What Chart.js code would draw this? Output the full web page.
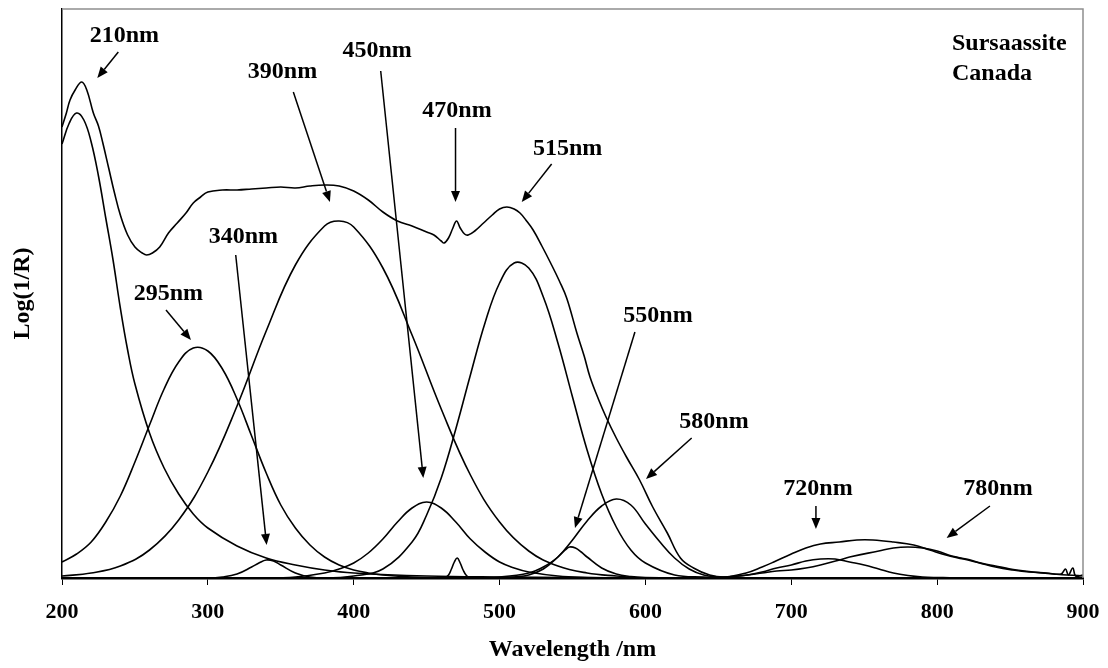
<!DOCTYPE html>
<html><head><meta charset="utf-8">
<script src="https://cdn.jsdelivr.net/npm/chart.js@4.4.1/dist/chart.umd.min.js"></script>
<style>html,body{margin:0;padding:0;background:#fff;}</style>
</head><body>
<canvas id="c" width="1108" height="668" style="width:1108px;height:668px;display:block"></canvas>
<script>
// ---- Data (Log(1/R), arbitrary units) ----
const xTicks = [200, 300, 400, 500, 600, 700, 800, 900];

const wlTotal = [200,203,205.5,209,213.5,217,221.5,225,228,232,236,240,245,250,255,258,262,267,273,279,285,290,295,300,310,320,330,340,350,360,370,380,390,400,410,420,430,440,450,455,460,462,465,468,470.5,473,476,478.5,483,489,495,500,505,510,514,518,523,529,535,541,546,553,558,562,568,573,580,587,596,605,615,624,633,644,655,669,680,688,700,710,720,733,745,756,770,784,795,806,818,829,840,852,863,875,885,888,890,893,895,900];
const vTotal = [.451,.465,.478,.488,.496,.488,.465,.452,.435,.410,.385,.363,.343,.331,.325,.323,.325,.331,.345,.355,.365,.375,.381,.386,.388,.388,.389,.390,.391,.390,.392,.393,.392,.387,.378,.366,.357,.352,.346,.343,.337,.335,.340,.350,.357,.350,.344,.343,.347,.355,.363,.369,.371,.369,.365,.358,.348,.332,.315,.297,.280,.245,.222,.201,.178,.161,.140,.121,.098,.071,.045,.020,.010,.003,.001,.005,.011,.016,.024,.030,.034,.036,.038,.038,.036,.033,.028,.023,.019,.015,.011,.008,.006,.005,.004,.009,.003,.010,.002,.003];

const wl210 = [200,205,210,215,220,225,230,235,240,245,250,260,270,280,290,300,320,340,360,380,400,450,500,600,900];
const v210  = [.434,.455,.465,.458,.436,.402,.360,.318,.270,.228,.194,.145,.110,.084,.064,.050,.032,.020,.013,.008,.005,.002,.001,0,0];

const wl295 = [200,210,220,230,240,250,260,270,280,290,300,310,320,330,340,350,360,370,380,390,400,410,420,440,470,900];
const v295  = [.016,.024,.036,.056,.082,.116,.153,.189,.216,.230,.227,.209,.179,.142,.105,.073,.050,.033,.021,.013,.008,.005,.003,.001,0,0];

const wl340 = [200,300,310,320,330,335,340,345,350,360,370,380,900];
const v340  = [0,0,.001,.004,.011,.015,.018,.017,.013,.005,.001,0,0];

const wl390 = [200,220,240,260,280,300,320,340,360,380,390,400,420,440,460,480,500,520,540,560,580,600,900];
const v390  = [.002,.005,.012,.028,.058,.106,.172,.247,.313,.352,.357,.351,.310,.243,.169,.103,.056,.027,.012,.005,.002,0,0];

const wl450 = [200,340,360,380,390,400,410,420,430,440,450,460,470,480,490,500,510,520,540,560,580,900];
const v450  = [0,0,.001,.005,.009,.015,.025,.039,.056,.070,.076,.070,.056,.039,.026,.016,.010,.006,.002,.0005,0,0];

const wl470 = [200,462,465,467,469,471,473,475,477,480,900];
const v470  = [0,0,.003,.009,.016,.020,.015,.008,.003,0,0];

const wl515 = [200,380,400,420,440,450,460,470,480,490,500,510,520,530,540,550,560,570,580,590,600,620,640,660,900];
const v515  = [0,0,.002,.009,.036,.063,.100,.149,.203,.255,.295,.315,.310,.281,.235,.181,.128,.084,.051,.028,.015,.003,.001,0,0];

const wl550 = [200,500,510,520,530,540,545,548,552,556,560,570,580,590,600,620,900];
const v550  = [0,0,.001,.003,.009,.021,.028,.031,.030,.026,.021,.010,.004,.0015,.0005,0,0];

const wl580 = [200,480,500,520,530,540,550,560,570,580,590,600,610,620,630,640,650,660,900];
const v580  = [0,0,.001,.005,.011,.021,.038,.057,.072,.079,.073,.054,.036,.020,.009,.003,.001,0,0];

const wl720 = [200,640,650,660,670,680,690,700,710,720,730,740,750,760,770,780,790,800,820,900];
const v720  = [0,0,.0005,.0015,.003,.006,.010,.013,.017,.019,.019,.016,.013,.009,.005,.0025,.001,.0005,0,0];

const wl780 = [200,640,650,660,670,680,690,700,710,720,733,740,760,770,780,790,800,810,820,830,840,850,860,880,900];
const v780  = [0,0,.0005,.0015,.003,.005,.007,.008,.010,.013,.018,.021,.027,.030,.031,.030,.027,.022,.019,.015,.012,.009,.007,.004,.002];

// Annotations (data coordinates): label, text anchor, arrow start, arrow tip
const annoLabels = ['210nm','390nm','450nm','470nm','515nm','340nm','295nm','550nm','580nm','720nm','780nm'];
const annoText   = [[242.8,.536],[351.2,.500],[416,.521],[470.8,.461],[546.7,.423],[324.3,.335],[272.9,.278],[608.6,.256],[647,.150],[718.3,.083],[841.7,.083]];
const annoFrom   = [[238.6,.526],[358.6,.486],[418.5,.507],[469.8,.450],[535.7,.414],[319.1,.323],[271.3,.268],[592.8,.246],[631.7,.140],[716.9,.072],[836.2,.072]];
const annoTo     = [[224.2,.500],[383.7,.376],[447.7,.100],[469.8,.376],[515.2,.376],[340.3,.033],[288.4,.238],[551.7,.050],[600.4,.099],[716.9,.049],[806.5,.040]];
const sampleLines = ['Sursaassite','Canada'];
const sampleAt = [[810.2,.528],[810.2,.498]];

// ---- Build chart ----
const FONT = "'Liberation Serif','Times New Roman',Times,serif";
function pts(xs, ys){ return xs.map((x,i)=>({x:x, y:ys[i]})); }
const series = [
  [wl210,v210],[wl295,v295],[wl340,v340],[wl390,v390],[wl450,v450],[wl470,v470],
  [wl515,v515],[wl550,v550],[wl580,v580],[wl720,v720],[wl780,v780],[wlTotal,vTotal]
];
const datasets = series.map(s => ({
  data: pts(s[0], s[1]),
  borderColor:'#000', borderWidth:1.6, pointRadius:0, fill:false,
  tension:0.4
}));

const annoPlugin = {
  id:'anno',
  afterDatasetsDraw(chart){
    const ctx = chart.ctx, xs = chart.scales.x, ys = chart.scales.y;
    const P = p => [xs.getPixelForValue(p[0]), ys.getPixelForValue(p[1])];
    ctx.save();
    ctx.fillStyle = '#000'; ctx.strokeStyle = '#000';
    ctx.font = "bold 24px " + FONT;
    ctx.textAlign = 'center'; ctx.textBaseline = 'alphabetic';
    annoLabels.forEach((lab,i)=>{
      const t = P(annoText[i]);
      ctx.fillText(lab, t[0], t[1]);
      const a = P(annoFrom[i]), b = P(annoTo[i]);
      const ang = Math.atan2(b[1]-a[1], b[0]-a[0]);
      const hl = 11, hw = 4.5;
      const bx = b[0] - hl*Math.cos(ang), by = b[1] - hl*Math.sin(ang);
      ctx.lineWidth = 1.5;
      ctx.beginPath(); ctx.moveTo(a[0],a[1]); ctx.lineTo(bx,by); ctx.stroke();
      ctx.beginPath();
      ctx.moveTo(b[0],b[1]);
      ctx.lineTo(bx + hw*Math.sin(ang), by - hw*Math.cos(ang));
      ctx.lineTo(bx - hw*Math.sin(ang), by + hw*Math.cos(ang));
      ctx.closePath(); ctx.fill();
    });
    ctx.textAlign = 'left';
    sampleLines.forEach((s,i)=>{ const t = P(sampleAt[i]); ctx.fillText(s, t[0], t[1]); });
    // frame (top and right) in grey
    const ca = chart.chartArea;
    ctx.strokeStyle = '#8f8f8f'; ctx.lineWidth = 1.5;
    ctx.beginPath(); ctx.moveTo(ca.left, ca.top); ctx.lineTo(ca.right, ca.top); ctx.lineTo(ca.right, ca.bottom); ctx.stroke();
    ctx.restore();
  }
};

new Chart(document.getElementById('c'), {
  type:'line',
  data:{ datasets },
  plugins:[annoPlugin],
  options:{
    responsive:false, animation:false, devicePixelRatio:1,
    layout:{padding:{top:9,right:25,left:0,bottom:0}},
    plugins:{legend:{display:false}, tooltip:{enabled:false}},
    scales:{
      x:{type:'linear', min:200, max:900,
        afterBuildTicks(s){ s.ticks = xTicks.map(v=>({value:v})); },
        afterFit(s){ s.height = 90; s.paddingLeft = 0; s.paddingRight = 0; },
        ticks:{color:'#000', font:{family:FONT,size:22,weight:'bold'}, padding:14, maxRotation:0, autoSkip:false},
        grid:{drawOnChartArea:false, drawTicks:true, tickLength:7, tickColor:'#000', tickWidth:1},
        border:{display:true, color:'#000', width:2.5},
        title:{display:true, text:'Wavelength /nm', color:'#000', font:{family:FONT,size:24,weight:'bold'}, padding:{top:0,bottom:4}}
      },
      y:{type:'linear', min:0, max:0.569,
        afterFit(s){ s.width = 62; },
        ticks:{display:false},
        grid:{display:false, drawTicks:false},
        border:{display:true, color:'#000', width:1.5},
        title:{display:true, text:'Log(1/R)', color:'#000', font:{family:FONT,size:24,weight:'bold'}, padding:{top:8,bottom:0}}
      }
    }
  }
});
</script>
</body></html>
